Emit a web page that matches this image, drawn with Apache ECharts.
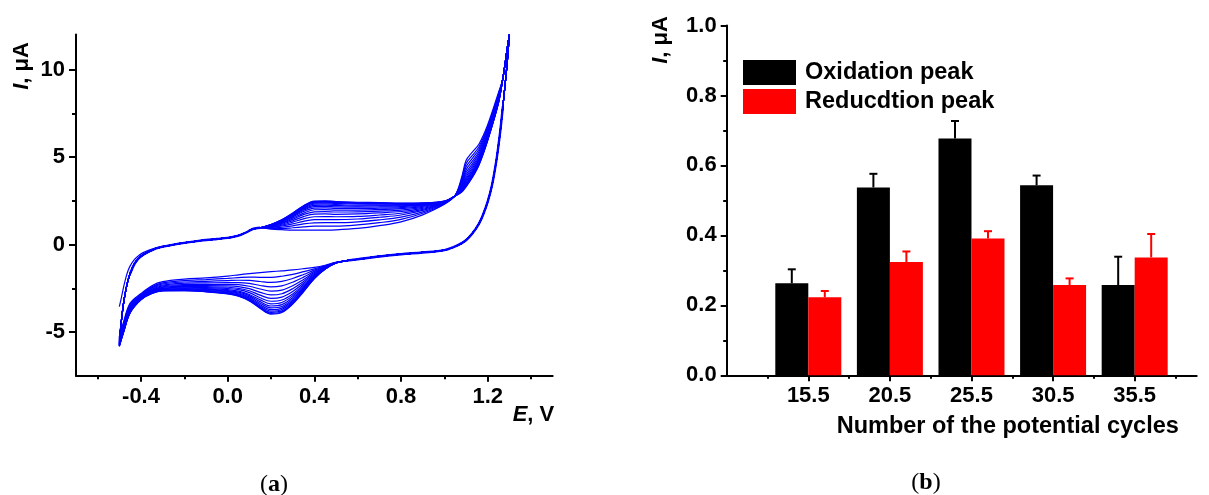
<!DOCTYPE html>
<html>
<head>
<meta charset="utf-8">
<script src="https://cdn.jsdelivr.net/npm/echarts@6/dist/echarts.min.js"></script>
<style>
  html, body { margin: 0; padding: 0; background: #ffffff; }
  #chart { width: 1209px; height: 495px; }
</style>
</head>
<body>
<div id="chart"></div>
<script>
// ---------- (a) cyclic voltammograms: potential E (V) vs current I (µA) ----------
// Forward scan, start region shared by every cycle after the first
const E_FWD_START = [-0.49, -0.48, -0.47, -0.46, -0.45, -0.43, -0.41, -0.39, -0.36, -0.33, -0.3, -0.25, -0.2, -0.15, -0.1, -0.05, 0.0, 0.03, 0.06, 0.09, 0.11, 0.13, 0.15];
const I_FWD_START = [-4.3, -3.3, -2.6, -2.05, -1.65, -1.1, -0.78, -0.58, -0.38, -0.22, -0.12, 0.0, 0.1, 0.18, 0.26, 0.32, 0.38, 0.45, 0.56, 0.72, 0.86, 0.93, 0.96];
// First cycle starts from rest at -0.5 V
const FIRST_START_I = -3.55;
const I_FWD_START_FIRST = [-3.0, -2.4, -1.9, -1.5, -1.22, -0.85, -0.62, -0.46, -0.3, -0.18, -0.1, 0.0, 0.1, 0.18, 0.26, 0.32, 0.38, 0.45, 0.56, 0.72, 0.86, 0.93, 0.96];

// Forward scan, oxidation region (one row per cycle)
const E_FWD_MID = [0.2, 0.25, 0.3, 0.35, 0.4, 0.45, 0.5, 0.6, 0.7, 0.8, 0.9, 1.0, 1.05, 1.08, 1.1, 1.13, 1.16, 1.2, 1.25];
const I_FWD_MID = [
  [0.88, 0.85, 0.83, 0.83, 0.83, 0.83, 0.84, 0.92, 1.08, 1.30, 1.70, 2.30, 2.82, 3.85, 4.80, 5.30, 5.75, 6.85, 8.70],
  [0.92, 0.92, 0.96, 1.01, 1.05, 1.05, 1.05, 1.12, 1.25, 1.44, 1.79, 2.32, 2.82, 3.75, 4.62, 5.11, 5.59, 6.73, 8.62],
  [0.95, 0.99, 1.07, 1.18, 1.24, 1.25, 1.25, 1.30, 1.41, 1.57, 1.87, 2.35, 2.81, 3.65, 4.44, 4.94, 5.45, 6.63, 8.55],
  [0.98, 1.06, 1.18, 1.33, 1.42, 1.43, 1.42, 1.46, 1.56, 1.69, 1.95, 2.37, 2.81, 3.56, 4.27, 4.78, 5.32, 6.53, 8.48],
  [1.00, 1.11, 1.28, 1.47, 1.59, 1.60, 1.59, 1.61, 1.69, 1.79, 2.01, 2.38, 2.80, 3.48, 4.12, 4.63, 5.20, 6.44, 8.42],
  [1.03, 1.16, 1.36, 1.60, 1.74, 1.75, 1.73, 1.75, 1.81, 1.89, 2.07, 2.40, 2.80, 3.41, 3.99, 4.50, 5.09, 6.36, 8.37],
  [1.05, 1.21, 1.44, 1.71, 1.87, 1.88, 1.86, 1.87, 1.91, 1.97, 2.13, 2.41, 2.79, 3.34, 3.86, 4.39, 4.99, 6.28, 8.32],
  [1.07, 1.25, 1.51, 1.80, 1.99, 2.00, 1.97, 1.97, 2.00, 2.05, 2.18, 2.43, 2.79, 3.28, 3.76, 4.29, 4.91, 6.22, 8.28],
  [1.09, 1.28, 1.57, 1.89, 2.08, 2.10, 2.07, 2.06, 2.08, 2.11, 2.22, 2.44, 2.79, 3.22, 3.67, 4.20, 4.84, 6.17, 8.24],
  [1.10, 1.31, 1.62, 1.96, 2.17, 2.18, 2.15, 2.14, 2.15, 2.17, 2.25, 2.45, 2.79, 3.18, 3.59, 4.13, 4.78, 6.12, 8.21],
  [1.11, 1.34, 1.66, 2.02, 2.24, 2.26, 2.23, 2.20, 2.21, 2.22, 2.28, 2.45, 2.79, 3.14, 3.52, 4.06, 4.72, 6.08, 8.19],
  [1.12, 1.36, 1.70, 2.07, 2.31, 2.33, 2.29, 2.26, 2.26, 2.26, 2.31, 2.46, 2.78, 3.10, 3.46, 4.00, 4.68, 6.04, 8.16],
  [1.13, 1.38, 1.73, 2.12, 2.37, 2.38, 2.35, 2.32, 2.31, 2.30, 2.33, 2.47, 2.78, 3.07, 3.41, 3.95, 4.63, 6.01, 8.14],
  [1.14, 1.40, 1.76, 2.16, 2.41, 2.43, 2.40, 2.36, 2.35, 2.33, 2.35, 2.47, 2.78, 3.04, 3.36, 3.91, 4.60, 5.99, 8.12],
  [1.15, 1.41, 1.78, 2.20, 2.45, 2.47, 2.43, 2.39, 2.38, 2.35, 2.37, 2.48, 2.78, 3.02, 3.33, 3.88, 4.57, 5.97, 8.11],
  [1.15, 1.42, 1.80, 2.22, 2.48, 2.50, 2.46, 2.42, 2.40, 2.37, 2.38, 2.48, 2.78, 3.00, 3.30, 3.85, 4.55, 5.95, 8.10]
];

// Vertex region, shared
const E_FWD_END = [1.27, 1.29, 1.3];
const I_FWD_END = [9.5, 11.2, 12.0];
const E_REV_TOP = [1.29, 1.28, 1.27, 1.26, 1.25, 1.24, 1.22, 1.2, 1.18, 1.16, 1.13, 1.1, 1.06, 1.0, 0.9, 0.8, 0.7, 0.6, 0.55];
const I_REV_TOP = [10.4, 9.1, 7.9, 6.7, 5.7, 4.8, 3.4, 2.45, 1.75, 1.2, 0.65, 0.25, -0.05, -0.32, -0.45, -0.55, -0.68, -0.84, -0.92];

// Reverse scan, reduction region (one row per cycle)
const E_REV_LOW = [0.5, 0.45, 0.4, 0.35, 0.3, 0.25, 0.2, 0.15, 0.1, 0.05, 0.0, -0.1, -0.2, -0.3, -0.35, -0.4, -0.45, -0.48, -0.5];
const I_REV_LOW = [
  [-1.02, -1.18, -1.30, -1.38, -1.45, -1.50, -1.55, -1.60, -1.66, -1.73, -1.80, -1.90, -1.97, -2.12, -2.35, -2.80, -3.35, -4.40, -5.30],
  [-1.02, -1.21, -1.39, -1.55, -1.70, -1.81, -1.87, -1.87, -1.86, -1.89, -1.93, -2.00, -2.06, -2.19, -2.41, -2.85, -3.42, -4.48, -5.37],
  [-1.03, -1.24, -1.46, -1.71, -1.94, -2.10, -2.16, -2.11, -2.05, -2.04, -2.06, -2.10, -2.14, -2.25, -2.46, -2.89, -3.49, -4.55, -5.43],
  [-1.03, -1.26, -1.53, -1.86, -2.15, -2.36, -2.42, -2.34, -2.22, -2.17, -2.17, -2.19, -2.21, -2.31, -2.51, -2.93, -3.55, -4.62, -5.49],
  [-1.03, -1.28, -1.60, -1.99, -2.35, -2.60, -2.66, -2.54, -2.38, -2.29, -2.27, -2.27, -2.28, -2.36, -2.56, -2.96, -3.60, -4.68, -5.54],
  [-1.04, -1.30, -1.66, -2.11, -2.52, -2.81, -2.88, -2.73, -2.52, -2.40, -2.36, -2.34, -2.34, -2.41, -2.60, -2.99, -3.65, -4.73, -5.59],
  [-1.04, -1.32, -1.71, -2.21, -2.68, -3.00, -3.08, -2.89, -2.64, -2.50, -2.44, -2.40, -2.39, -2.45, -2.63, -3.02, -3.70, -4.78, -5.63],
  [-1.04, -1.33, -1.76, -2.30, -2.82, -3.17, -3.24, -3.04, -2.75, -2.58, -2.51, -2.46, -2.44, -2.49, -2.67, -3.05, -3.74, -4.82, -5.66],
  [-1.04, -1.35, -1.79, -2.38, -2.93, -3.31, -3.39, -3.16, -2.85, -2.66, -2.58, -2.51, -2.48, -2.52, -2.69, -3.07, -3.77, -4.86, -5.70],
  [-1.04, -1.36, -1.83, -2.45, -3.03, -3.43, -3.51, -3.26, -2.92, -2.72, -2.63, -2.55, -2.51, -2.55, -2.72, -3.08, -3.80, -4.89, -5.72],
  [-1.05, -1.37, -1.86, -2.51, -3.12, -3.54, -3.62, -3.35, -2.99, -2.77, -2.67, -2.58, -2.54, -2.57, -2.74, -3.10, -3.82, -4.91, -5.75],
  [-1.05, -1.38, -1.88, -2.56, -3.20, -3.63, -3.72, -3.44, -3.06, -2.82, -2.71, -2.62, -2.57, -2.59, -2.75, -3.11, -3.84, -4.94, -5.77],
  [-1.05, -1.39, -1.90, -2.61, -3.26, -3.71, -3.80, -3.51, -3.11, -2.87, -2.75, -2.64, -2.59, -2.61, -2.77, -3.13, -3.86, -4.96, -5.78],
  [-1.05, -1.39, -1.92, -2.65, -3.32, -3.79, -3.87, -3.57, -3.16, -2.90, -2.78, -2.67, -2.61, -2.63, -2.78, -3.14, -3.88, -4.98, -5.80],
  [-1.05, -1.40, -1.94, -2.68, -3.37, -3.84, -3.93, -3.61, -3.19, -2.93, -2.80, -2.69, -2.63, -2.64, -2.79, -3.14, -3.89, -4.99, -5.81],
  [-1.05, -1.40, -1.95, -2.70, -3.40, -3.88, -3.97, -3.65, -3.22, -2.95, -2.82, -2.70, -2.64, -2.65, -2.80, -3.15, -3.90, -5.00, -5.82]
];
const SCAN_START_E = -0.5;

// Axis ticks of panel (a)
const A_X_LABELS = [-0.4, 0.0, 0.4, 0.8, 1.2];
const A_X_MINOR = [-0.6, -0.2, 0.2, 0.6, 1.0, 1.4];
const A_Y_LABELS = [-5, 0, 5, 10];
const A_Y_MINOR = [-2.5, 2.5, 7.5];

// ---------- (b) peak currents vs number of potential cycles ----------
const CYCLE_COUNTS = [15.5, 20.5, 25.5, 30.5, 35.5];
const CYCLE_MINOR = [13, 18, 23, 28, 33, 38];
const OX_PEAK = [0.263, 0.537, 0.677, 0.543, 0.258];
const OX_ERR = [0.040, 0.039, 0.050, 0.028, 0.081];
const RED_PEAK = [0.223, 0.324, 0.391, 0.258, 0.337];
const RED_ERR = [0.018, 0.030, 0.021, 0.019, 0.067];
const SERIES_NAMES = ['Oxidation peak', 'Reducdtion peak'];

// ---------- drawing ----------
const FONT = '"Liberation Sans", Arial, Helvetica, sans-serif';
const SERIF = '"Liberation Serif", "DejaVu Serif", serif';
const BAR_W = 33;
const CV_BLUE = '#0000ff';

function buildCycle(k) {
  const pts = [];
  const startI = k === 0 ? FIRST_START_I : I_REV_LOW[k - 1][I_REV_LOW[k - 1].length - 1];
  pts.push([SCAN_START_E, startI]);
  const head = k === 0 ? I_FWD_START_FIRST : I_FWD_START;
  E_FWD_START.forEach((e, i) => pts.push([e, head[i]]));
  E_FWD_MID.forEach((e, i) => pts.push([e, I_FWD_MID[k][i]]));
  E_FWD_END.forEach((e, i) => pts.push([e, I_FWD_END[i]]));
  E_REV_TOP.forEach((e, i) => pts.push([e, I_REV_TOP[i]]));
  E_REV_LOW.forEach((e, i) => pts.push([e, I_REV_LOW[k][i]]));
  return pts;
}

const cvSeries = I_FWD_MID.map((row, k) => ({
  type: 'line',
  name: 'cycle ' + (k + 1),
  xAxisIndex: 0,
  yAxisIndex: 0,
  data: buildCycle(k),
  showSymbol: false,
  symbol: 'none',
  smooth: 0.35,
  silent: true,
  lineStyle: { color: CV_BLUE, width: 1.2 },
  z: 2
}));

// Segments where all cycles overlap are drawn as one heavier bundle
function bundle(es, is) {
  return {
    type: 'line', xAxisIndex: 0, yAxisIndex: 0,
    data: es.map((e, i) => [e, is[i]]),
    showSymbol: false, symbol: 'none', smooth: 0.35, silent: true,
    lineStyle: { color: CV_BLUE, width: 2.4 }, z: 2
  };
}
const bundleSeries = [
  bundle(E_FWD_START.slice(4), I_FWD_START.slice(4)),
  bundle(E_REV_TOP.slice(2), I_REV_TOP.slice(2))
];

const axisLineStyle = { show: true, onZero: false, lineStyle: { color: '#000', width: 2 } };
const labelStyle = { color: '#000', fontFamily: FONT, fontWeight: 'bold', fontSize: 22 };

function errorBarSeries(values, errs, color, offset) {
  return {
    type: 'custom',
    coordinateSystem: 'cartesian2d',
    xAxisIndex: 2,
    yAxisIndex: 2,
    silent: true,
    z: 5,
    data: CYCLE_COUNTS.map((c, i) => [c, values[i], errs[i]]),
    renderItem: function (params, api) {
      const x = api.value(0), v = api.value(1), e = api.value(2);
      const p0 = api.coord([x, v]);
      const p1 = api.coord([x, v + e]);
      const cx = p0[0] + offset;
      return {
        type: 'group',
        children: [
          { type: 'line', shape: { x1: cx, y1: p0[1], x2: cx, y2: p1[1] }, style: { stroke: color, lineWidth: 2 } },
          { type: 'line', shape: { x1: cx - 4, y1: p1[1], x2: cx + 4, y2: p1[1] }, style: { stroke: color, lineWidth: 2 } }
        ]
      };
    }
  };
}

const richTitle = {
  it: { fontFamily: FONT, fontWeight: 'bold', fontStyle: 'italic', fontSize: 22, fill: '#000' },
  b: { fontFamily: FONT, fontWeight: 'bold', fontSize: 22, fill: '#000' }
};
const richTag = {
  p: { fontFamily: SERIF, fontSize: 24, fill: '#000' },
  a: { fontFamily: SERIF, fontWeight: 'bold', fontSize: 24, fill: '#000' }
};

const option = {
  animation: false,
  backgroundColor: '#ffffff',
  grid: [
    { left: 76, top: 34.6, width: 476.7, height: 341.2, outerBoundsMode: 'none', containLabel: false },
    { left: 726.7, top: 25.5, width: 470, height: 349.8, outerBoundsMode: 'none', containLabel: false }
  ],
  xAxis: [
    {
      type: 'value', gridIndex: 0, position: 'bottom', min: -0.7, max: 1.5,
      axisLine: axisLineStyle,
      axisTick: { show: true, inside: false, length: 6, customValues: A_X_LABELS, lineStyle: { color: '#000', width: 2 } },
      axisLabel: Object.assign({ show: true, margin: 10, customValues: A_X_LABELS, formatter: v => v.toFixed(1) }, labelStyle),
      splitLine: { show: false }
    },
    {
      type: 'value', gridIndex: 0, position: 'bottom', min: -0.7, max: 1.5,
      axisLine: { show: false, onZero: false },
      axisTick: { show: true, inside: false, length: 3.5, customValues: A_X_MINOR, lineStyle: { color: '#000', width: 2 } },
      axisLabel: { show: false },
      splitLine: { show: false }
    },
    {
      type: 'value', gridIndex: 1, position: 'bottom', min: 10.5, max: 39.3,
      axisLine: axisLineStyle,
      axisTick: { show: true, inside: false, length: 6, customValues: CYCLE_COUNTS, lineStyle: { color: '#000', width: 2 } },
      axisLabel: Object.assign({ show: true, margin: 10, customValues: CYCLE_COUNTS, formatter: v => v.toFixed(1) }, labelStyle),
      splitLine: { show: false }
    },
    {
      type: 'value', gridIndex: 1, position: 'bottom', min: 10.5, max: 39.3,
      axisLine: { show: false, onZero: false },
      axisTick: { show: true, inside: false, length: 3.5, customValues: CYCLE_MINOR, lineStyle: { color: '#000', width: 2 } },
      axisLabel: { show: false },
      splitLine: { show: false }
    }
  ],
  yAxis: [
    {
      type: 'value', gridIndex: 0, position: 'left', min: -7.5, max: 12,
      axisLine: axisLineStyle,
      axisTick: { show: true, inside: false, length: 7, customValues: A_Y_LABELS, lineStyle: { color: '#000', width: 2 } },
      axisLabel: Object.assign({ show: true, margin: 11, customValues: A_Y_LABELS, formatter: v => String(v) }, labelStyle),
      splitLine: { show: false }
    },
    {
      type: 'value', gridIndex: 0, position: 'left', min: -7.5, max: 12,
      axisLine: { show: false, onZero: false },
      axisTick: { show: true, inside: false, length: 4, customValues: A_Y_MINOR, lineStyle: { color: '#000', width: 2 } },
      axisLabel: { show: false },
      splitLine: { show: false }
    },
    {
      type: 'value', gridIndex: 1, position: 'left', min: 0, max: 1, interval: 0.2,
      axisLine: axisLineStyle,
      axisTick: { show: true, inside: false, length: 6, lineStyle: { color: '#000', width: 2 } },
      minorTick: { show: true, splitNumber: 2, length: 3.5, lineStyle: { color: '#000', width: 2 } },
      axisLabel: Object.assign({ show: true, margin: 10, formatter: v => v.toFixed(1) }, labelStyle),
      splitLine: { show: false },
      minorSplitLine: { show: false }
    }
  ],
  legend: {
    show: true,
    data: SERIES_NAMES,
    orient: 'vertical',
    left: 743,
    top: 60,
    padding: 0,
    itemGap: 4,
    itemWidth: 53,
    itemHeight: 25,
    icon: 'rect',
    selectedMode: false,
    textStyle: { color: '#000', fontFamily: FONT, fontWeight: 'bold', fontSize: 23.5, padding: [0, 0, 0, 4] }
  },
  series: cvSeries.concat(bundleSeries, [
    {
      type: 'bar', name: SERIES_NAMES[0], xAxisIndex: 2, yAxisIndex: 2,
      barWidth: BAR_W, barGap: '0%',
      data: CYCLE_COUNTS.map((c, i) => [c, OX_PEAK[i]]),
      itemStyle: { color: '#000000' }, silent: true, z: 3
    },
    {
      type: 'bar', name: SERIES_NAMES[1], xAxisIndex: 2, yAxisIndex: 2,
      barWidth: BAR_W, barGap: '0%',
      data: CYCLE_COUNTS.map((c, i) => [c, RED_PEAK[i]]),
      itemStyle: { color: '#ff0000' }, silent: true, z: 3
    },
    errorBarSeries(OX_PEAK, OX_ERR, '#000000', -BAR_W / 2),
    errorBarSeries(RED_PEAK, RED_ERR, '#ff0000', BAR_W / 2)
  ]),
  graphic: [
    { type: 'text', x: 22, y: 66, rotation: Math.PI / 2,
      style: { text: '{it|I}{b|, μA}', rich: richTitle, align: 'center', verticalAlign: 'middle' } },
    { type: 'text', x: 512.7, y: 415,
      style: { text: '{it|E}{b|, V}', rich: richTitle, align: 'left', verticalAlign: 'middle' } },
    { type: 'text', x: 660.5, y: 40, rotation: Math.PI / 2,
      style: { text: '{it|I}{b|, μA}', rich: richTitle, align: 'center', verticalAlign: 'middle' } },
    { type: 'text', x: 836.7, y: 426.7,
      style: { text: 'Number of the potential cycles', fontFamily: FONT, fontWeight: 'bold', fontSize: 23.5, fill: '#000', align: 'left', verticalAlign: 'middle' } },
    { type: 'text', x: 274, y: 485,
      style: { text: '{p|(}{a|a}{p|)}', rich: richTag, align: 'center', verticalAlign: 'middle' } },
    { type: 'text', x: 926, y: 483,
      style: { text: '{p|(}{a|b}{p|)}', rich: richTag, align: 'center', verticalAlign: 'middle' } }
  ]
};

const chart = echarts.init(document.getElementById('chart'), null, { renderer: 'canvas' });
chart.setOption(option);
</script>
</body>
</html>
